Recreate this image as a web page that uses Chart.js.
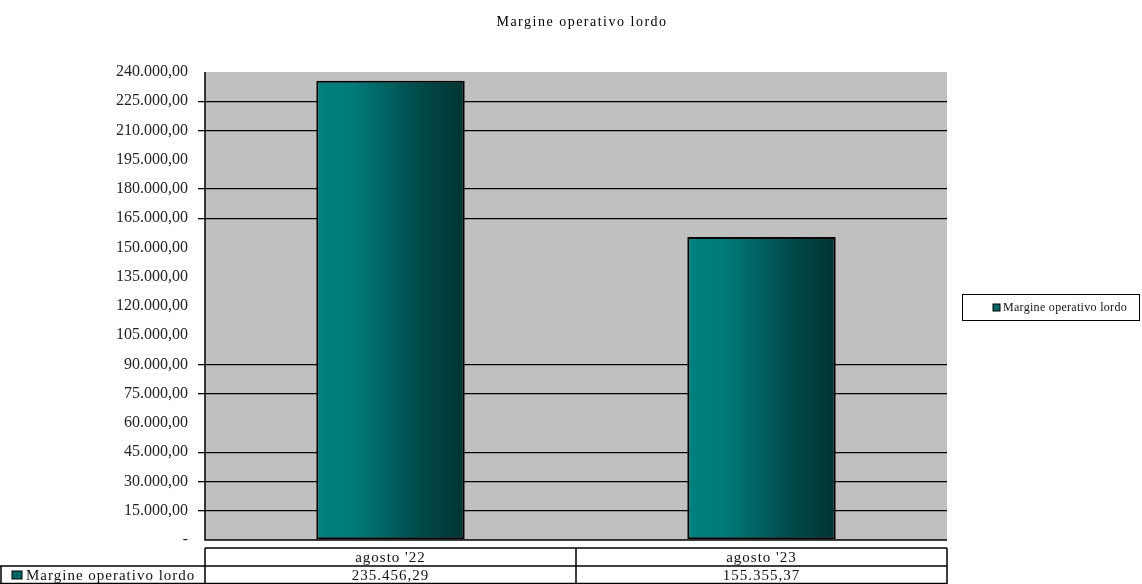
<!DOCTYPE html>
<html>
<head>
<meta charset="utf-8">
<script src="https://cdn.jsdelivr.net/npm/chart.js@4"></script>
<style>
  html, body { margin: 0; padding: 0; background: #fff; }
  #wrap { width: 1142px; height: 584px; }
</style>
</head>
<body>
<div id="wrap"><canvas id="grafico"></canvas></div>
<script>
const titolo = 'Margine operativo lordo';
const periodi = ['agosto \'22', 'agosto \'23'];
const valori = [235456.29, 155355.37];
const etichetteValori = ['235.456,29', '155.355,37'];
// righe della griglia che si vedono nell'originale
const righeVisibili = [225000, 210000, 180000, 165000, 90000, 75000, 45000, 30000, 15000];

const serif = '"Liberation Serif", "DejaVu Serif", serif';

function formatoEuro(v) {
    if (v === 0) return '-';
    return v.toLocaleString('it-IT', { minimumFractionDigits: 2, maximumFractionDigits: 2 });
}

// sfondo grigio, gradiente barre, tabella dati e legenda
const extra = {
    id: 'extra',
    beforeDraw(chart) {
        const a = chart.chartArea;
        const c = chart.ctx;
        c.save();
        c.fillStyle = '#c0c0c0';
        c.fillRect(a.left, a.top, a.right - a.left, a.bottom - a.top);
        c.restore();
    },
    beforeDatasetDraw(chart, args) {
        const c = chart.ctx;
        args.meta.data.forEach(bar => {
            const x0 = bar.x - bar.width / 2;
            const x1 = bar.x + bar.width / 2;
            const g = c.createLinearGradient(x0, 0, x1, 0);
            g.addColorStop(0, '#008080');
            g.addColorStop(0.25, '#007a7a');
            g.addColorStop(0.7, '#004a4a');
            g.addColorStop(1, '#003333');
            bar.options.backgroundColor = g;
        });
    },
    afterDraw(chart) {
        const a = chart.chartArea;
        const c = chart.ctx;
        const x = chart.scales.x;
        c.save();
        // asse
        c.strokeStyle = '#000';
        c.lineWidth = 1.5;
        c.beginPath();
        c.moveTo(a.left, a.top);
        c.lineTo(a.left, a.bottom);
        c.lineTo(a.right, a.bottom);
        c.stroke();

        // titolo
        c.fillStyle = '#000';
        c.font = '14px ' + serif;
        c.letterSpacing = '1.5px';
        c.textAlign = 'center';
        c.textBaseline = 'middle';
        c.fillText(titolo, 582, 22);

        // tabella dati
        const r1 = 548, r2 = 566, r3 = 584;
        const passo = x.getPixelForValue(1) - x.getPixelForValue(0);
        const bordi = [a.left];
        for (let i = 0; i < periodi.length; i++) {
            bordi.push(x.getPixelForValue(i) + passo / 2);
        }
        c.lineWidth = 1.5;
        c.beginPath();
        c.moveTo(a.left, r1); c.lineTo(a.right, r1);
        c.moveTo(0, r2); c.lineTo(a.right, r2);
        c.moveTo(0, r3 - 0.5); c.lineTo(a.right, r3 - 0.5);
        bordi.forEach(b => { c.moveTo(b, r1); c.lineTo(b, r3); });
        c.moveTo(1, r2); c.lineTo(1, r3);
        c.stroke();

        c.font = '15px ' + serif;
        c.letterSpacing = '1px';
        c.fillStyle = '#111';
        periodi.forEach((p, i) => {
            const cx = x.getPixelForValue(i);
            c.fillText(p, cx, (r1 + r2) / 2 + 1);
            c.fillText(etichetteValori[i], cx, (r2 + r3) / 2 + 1);
        });
        c.textAlign = 'left';
        c.fillStyle = '#006666';
        c.fillRect(12, 571, 10, 8);
        c.strokeStyle = '#000';
        c.lineWidth = 1;
        c.strokeRect(12, 571, 10, 8);
        c.fillStyle = '#111';
        c.fillText(chart.data.datasets[0].label, 26, (r2 + r3) / 2 + 1);

        // legenda
        c.strokeStyle = '#000';
        c.lineWidth = 1;
        c.strokeRect(962.5, 294.5, 177, 26);
        c.fillStyle = '#006666';
        c.fillRect(993, 304, 7, 7);
        c.strokeRect(993, 304, 7, 7);
        c.fillStyle = '#111';
        c.font = '12px ' + serif;
        c.letterSpacing = '0.3px';
        c.fillText(chart.data.datasets[0].label, 1003, 308);
        c.restore();
    }
};

new Chart(document.getElementById('grafico'), {
    type: 'bar',
    data: {
        labels: periodi,
        datasets: [{
            label: titolo,
            data: valori,
            // scriptable, così ogni barra ha le sue opzioni (gradiente separato)
            backgroundColor: ctx => '#006666',
            borderColor: '#000',
            borderWidth: 2,
            borderSkipped: false,
            barPercentage: 0.4,
            categoryPercentage: 1
        }]
    },
    options: {
        responsive: true,
        maintainAspectRatio: false,
        animation: false,
        layout: { padding: { left: 0, right: 195, top: 72, bottom: 44 } },
        plugins: {
            legend: { display: false },
            title: { display: false },
            tooltip: { enabled: false }
        },
        scales: {
            x: {
                display: false,
                offset: true
            },
            y: {
                min: 0,
                max: 240000,
                afterFit(scale) { scale.width = 205; },
                border: { display: false },
                grid: {
                    color: ctx => righeVisibili.includes(ctx.tick.value) ? '#000' : 'rgba(0,0,0,0)',
                    lineWidth: 1.3,
                    tickLength: 7
                },
                ticks: {
                    stepSize: 15000,
                    padding: 10,
                    color: '#222',
                    font: { family: serif, size: 16 },
                    callback: v => formatoEuro(v)
                }
            }
        }
    },
    plugins: [extra]
});
</script>
</body>
</html>
